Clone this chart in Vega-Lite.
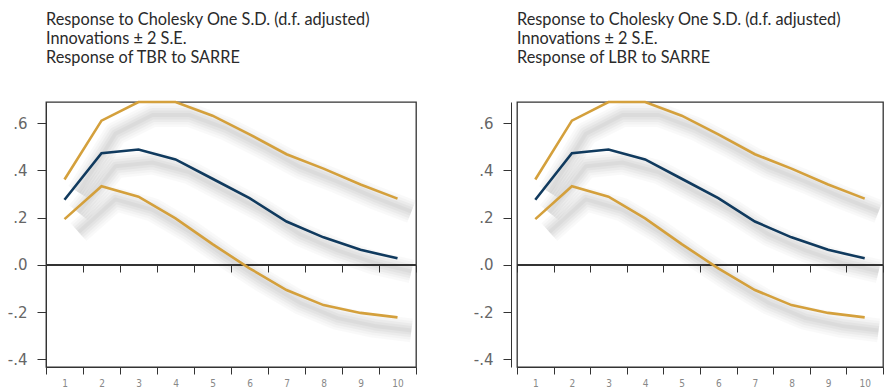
{
  "$schema": "https://vega.github.io/schema/vega-lite/v6.json",
  "padding": {"left": 6, "top": 10, "right": 0, "bottom": 0},
  "background": "white",
  "bounds": "flush",
  "spacing": 101,
  "config": {"view": {"stroke": "#333", "strokeWidth": 1.3}},
  "datasets": {
    "irf": [
      {"h": 1, "series": "upper", "value": 0.362},
      {"h": 2, "series": "upper", "value": 0.611},
      {"h": 3, "series": "upper", "value": 0.69},
      {"h": 4, "series": "upper", "value": 0.69},
      {"h": 5, "series": "upper", "value": 0.632},
      {"h": 6, "series": "upper", "value": 0.553},
      {"h": 7, "series": "upper", "value": 0.469},
      {"h": 8, "series": "upper", "value": 0.408},
      {"h": 9, "series": "upper", "value": 0.341},
      {"h": 10, "series": "upper", "value": 0.281},
      {"h": 1, "series": "response", "value": 0.276},
      {"h": 2, "series": "response", "value": 0.473},
      {"h": 3, "series": "response", "value": 0.489},
      {"h": 4, "series": "response", "value": 0.447},
      {"h": 5, "series": "response", "value": 0.365},
      {"h": 6, "series": "response", "value": 0.283},
      {"h": 7, "series": "response", "value": 0.184},
      {"h": 8, "series": "response", "value": 0.117},
      {"h": 9, "series": "response", "value": 0.064},
      {"h": 10, "series": "response", "value": 0.028},
      {"h": 1, "series": "lower", "value": 0.194},
      {"h": 2, "series": "lower", "value": 0.333},
      {"h": 3, "series": "lower", "value": 0.289},
      {"h": 4, "series": "lower", "value": 0.197},
      {"h": 5, "series": "lower", "value": 0.088},
      {"h": 6, "series": "lower", "value": -0.014},
      {"h": 7, "series": "lower", "value": -0.106},
      {"h": 8, "series": "lower", "value": -0.17},
      {"h": 9, "series": "lower", "value": -0.203},
      {"h": 10, "series": "lower", "value": -0.222}
    ]
  },
  "hconcat": [
    {
      "width": 370,
      "height": 265,
      "title": {"text": ["Response to Cholesky One S.D. (d.f. adjusted)", "Innovations ± 2 S.E.", "Response of TBR to SARRE"], "anchor": "start", "frame": "group", "font": "Lato", "fontSize": 16.3, "fontWeight": "normal", "color": "#2a2a2a", "lineHeight": 19, "offset": 31},
      "data": {"name": "irf"},
      "resolve": {"axis": {"x": "independent"}},
      "encoding": {
        "y": {"field": "value", "type": "quantitative", "scale": {"domain": [-0.432, 0.69], "nice": false, "zero": false},
          "axis": {"values": [-0.4, -0.2, 0, 0.2, 0.4, 0.6], "labelExpr": "(datum.value < 0 ? '-' : '') + replace(format(abs(datum.value), '.1f'), '0.', '.')", "title": null, "grid": false, "tickSize": 9, "tickColor": "#333", "domainColor": "#333", "labelFont": "DejaVu Sans", "labelFontSize": 15, "labelColor": "#666", "labelPadding": 10, "offset": 0}}
      },
      "layer": [
        {"mark": {"type": "line", "color": "#000", "opacity": 0.025, "strokeWidth": 24, "xOffset": 14, "yOffset": 13, "strokeCap": "butt", "strokeJoin": "round"},
          "encoding": {"x": {"field": "h", "type": "ordinal", "scale": {"paddingInner": 0, "paddingOuter": 0}, "axis": {"orient": "bottom", "offset": -102, "labels": false, "domain": false, "tickBand": "extent", "tickSize": 7, "tickColor": "#333", "title": null}}, "detail": {"field": "series"}}},
        {"mark": {"type": "line", "color": "#000", "opacity": 0.025, "strokeWidth": 19, "xOffset": 14, "yOffset": 13, "strokeCap": "butt", "strokeJoin": "round"},
          "encoding": {"x": {"field": "h", "type": "ordinal", "axis": null}, "detail": {"field": "series"}}},
        {"mark": {"type": "line", "color": "#000", "opacity": 0.03, "strokeWidth": 14, "xOffset": 14, "yOffset": 13, "strokeCap": "butt", "strokeJoin": "round"},
          "encoding": {"x": {"field": "h", "type": "ordinal", "axis": null}, "detail": {"field": "series"}}},
        {"mark": {"type": "line", "color": "#000", "opacity": 0.03, "strokeWidth": 9, "xOffset": 14, "yOffset": 13, "strokeCap": "butt", "strokeJoin": "round"},
          "encoding": {"x": {"field": "h", "type": "ordinal", "axis": null}, "detail": {"field": "series"}}},
        {"mark": {"type": "line", "color": "#000", "opacity": 0.03, "strokeWidth": 4, "xOffset": 14, "yOffset": 13, "strokeCap": "butt", "strokeJoin": "round"},
          "encoding": {"x": {"field": "h", "type": "ordinal", "axis": null}, "detail": {"field": "series"}}},
        {"mark": {"type": "rule", "color": "#333", "strokeWidth": 1.2}, "encoding": {"y": {"datum": 0}}},
        {"mark": {"type": "line", "strokeWidth": 2.6},
          "encoding": {
            "x": {"field": "h", "type": "ordinal", "axis": {"orient": "bottom", "title": null, "labelAngle": 0, "tickBand": "extent", "tickSize": 7, "tickColor": "#333", "domainColor": "#333", "labelFont": "DejaVu Sans Condensed", "labelFontSize": 10, "labelColor": "#888", "labelPadding": 4}},
            "color": {"field": "series", "type": "nominal", "scale": {"domain": ["upper", "response", "lower"], "range": ["#D4A03C", "#103A5E", "#D4A03C"]}, "legend": null},
            "detail": {"field": "series"}
          }}
      ]
    },
    {
      "width": 366,
      "height": 265,
      "title": {"text": ["Response to Cholesky One S.D. (d.f. adjusted)", "Innovations ± 2 S.E.", "Response of LBR to SARRE"], "anchor": "start", "frame": "group", "font": "Lato", "fontSize": 16.3, "fontWeight": "normal", "color": "#2a2a2a", "lineHeight": 19, "offset": 31},
      "data": {"name": "irf"},
      "resolve": {"axis": {"x": "independent"}},
      "encoding": {
        "y": {"field": "value", "type": "quantitative", "scale": {"domain": [-0.432, 0.69], "nice": false, "zero": false},
          "axis": {"values": [-0.4, -0.2, 0, 0.2, 0.4, 0.6], "labelExpr": "(datum.value < 0 ? '-' : '') + replace(format(abs(datum.value), '.1f'), '0.', '.')", "title": null, "grid": false, "tickSize": 8, "tickColor": "#333", "domainColor": "#333", "labelFont": "DejaVu Sans", "labelFontSize": 15, "labelColor": "#666", "labelPadding": 10, "offset": 6}}
      },
      "layer": [
        {"mark": {"type": "line", "color": "#000", "opacity": 0.025, "strokeWidth": 24, "xOffset": 14, "yOffset": 13, "strokeCap": "butt", "strokeJoin": "round"},
          "encoding": {"x": {"field": "h", "type": "ordinal", "scale": {"paddingInner": 0, "paddingOuter": 0}, "axis": {"orient": "bottom", "offset": -102, "labels": false, "domain": false, "tickBand": "extent", "tickSize": 7, "tickColor": "#333", "title": null}}, "detail": {"field": "series"}}},
        {"mark": {"type": "line", "color": "#000", "opacity": 0.025, "strokeWidth": 19, "xOffset": 14, "yOffset": 13, "strokeCap": "butt", "strokeJoin": "round"},
          "encoding": {"x": {"field": "h", "type": "ordinal", "axis": null}, "detail": {"field": "series"}}},
        {"mark": {"type": "line", "color": "#000", "opacity": 0.03, "strokeWidth": 14, "xOffset": 14, "yOffset": 13, "strokeCap": "butt", "strokeJoin": "round"},
          "encoding": {"x": {"field": "h", "type": "ordinal", "axis": null}, "detail": {"field": "series"}}},
        {"mark": {"type": "line", "color": "#000", "opacity": 0.03, "strokeWidth": 9, "xOffset": 14, "yOffset": 13, "strokeCap": "butt", "strokeJoin": "round"},
          "encoding": {"x": {"field": "h", "type": "ordinal", "axis": null}, "detail": {"field": "series"}}},
        {"mark": {"type": "line", "color": "#000", "opacity": 0.03, "strokeWidth": 4, "xOffset": 14, "yOffset": 13, "strokeCap": "butt", "strokeJoin": "round"},
          "encoding": {"x": {"field": "h", "type": "ordinal", "axis": null}, "detail": {"field": "series"}}},
        {"mark": {"type": "rule", "color": "#333", "strokeWidth": 1.2}, "encoding": {"y": {"datum": 0}}},
        {"mark": {"type": "line", "strokeWidth": 2.6},
          "encoding": {
            "x": {"field": "h", "type": "ordinal", "axis": {"orient": "bottom", "title": null, "labelAngle": 0, "tickBand": "extent", "tickSize": 7, "tickColor": "#333", "domainColor": "#333", "labelFont": "DejaVu Sans Condensed", "labelFontSize": 10, "labelColor": "#888", "labelPadding": 4}},
            "color": {"field": "series", "type": "nominal", "scale": {"domain": ["upper", "response", "lower"], "range": ["#D4A03C", "#103A5E", "#D4A03C"]}, "legend": null},
            "detail": {"field": "series"}
          }}
      ]
    }
  ]
}
